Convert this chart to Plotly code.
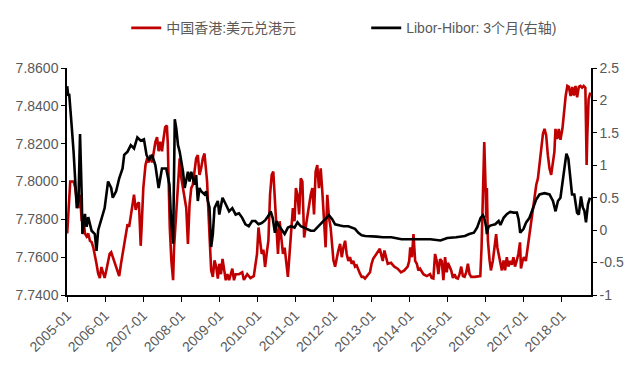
import plotly.graph_objects as go

# USD/HKD spot rate (left axis)
hkd_dates = [
    "2005-01-03", "2005-01-12", "2005-01-22", "2005-02-01", "2005-03-05", "2005-03-20", "2005-04-05",
    "2005-04-21", "2005-05-06", "2005-05-22", "2005-06-07", "2005-06-22", "2005-07-08", "2005-07-24",
    "2005-08-09", "2005-08-25", "2005-09-10", "2005-09-25", "2005-10-11", "2005-10-27", "2005-11-12",
    "2005-11-27", "2005-12-13", "2005-12-28", "2006-01-13", "2006-01-30", "2006-02-14", "2006-03-01",
    "2006-03-16", "2006-04-01", "2006-04-17", "2006-05-03", "2006-05-17", "2006-06-03", "2006-06-18",
    "2006-07-04", "2006-07-20", "2006-08-05", "2006-08-20", "2006-09-05", "2006-09-21", "2006-10-06",
    "2006-10-22", "2006-11-07", "2006-11-22", "2006-12-09", "2006-12-18", "2007-01-03", "2007-01-24",
    "2007-02-09", "2007-02-24", "2007-03-12", "2007-03-28", "2007-04-12", "2007-04-29", "2007-05-15",
    "2007-05-30", "2007-06-15", "2007-07-01", "2007-07-16", "2007-08-01", "2007-08-17", "2007-08-26",
    "2007-09-01", "2007-09-14", "2007-09-29", "2007-10-16", "2007-10-25", "2007-11-07", "2007-11-26",
    "2007-12-18", "2008-01-03", "2008-01-19", "2008-02-04", "2008-02-19", "2008-03-06", "2008-03-22",
    "2008-04-07", "2008-04-22", "2008-05-08", "2008-05-24", "2008-06-09", "2008-06-25", "2008-07-11",
    "2008-07-27", "2008-08-12", "2008-08-28", "2008-09-06", "2008-09-20", "2008-10-02", "2008-10-15",
    "2008-10-31", "2008-11-16", "2008-12-02", "2008-12-18", "2009-01-01", "2009-01-17", "2009-02-01",
    "2009-02-17", "2009-03-04", "2009-03-20", "2009-04-05", "2009-05-06", "2009-05-22", "2009-06-07",
    "2009-07-09", "2009-08-09", "2009-08-25", "2009-09-26", "2009-10-27", "2009-11-28", "2009-12-13",
    "2009-12-29", "2010-01-12", "2010-01-28", "2010-02-12", "2010-02-28", "2010-03-16", "2010-04-01",
    "2010-04-17", "2010-05-03", "2010-05-19", "2010-06-03", "2010-06-16", "2010-06-28", "2010-07-18",
    "2010-08-03", "2010-08-19", "2010-09-04", "2010-09-20", "2010-10-06", "2010-10-21", "2010-11-06",
    "2010-11-22", "2010-12-08", "2010-12-24", "2011-01-06", "2011-01-21", "2011-02-06", "2011-02-22",
    "2011-03-09", "2011-03-26", "2011-04-10", "2011-04-26", "2011-05-12", "2011-05-28", "2011-06-13",
    "2011-06-29", "2011-07-14", "2011-07-30", "2011-08-15", "2011-09-01", "2011-09-16", "2011-10-02",
    "2011-10-18", "2011-11-03", "2011-11-19", "2011-12-05", "2011-12-20", "2012-01-01", "2012-01-17",
    "2012-02-01", "2012-02-17", "2012-03-05", "2012-03-21", "2012-04-06", "2012-04-22", "2012-05-07",
    "2012-05-23", "2012-06-08", "2012-06-24", "2012-07-10", "2012-07-26", "2012-08-11", "2012-08-27",
    "2012-09-12", "2012-09-28", "2012-10-14", "2012-10-30", "2012-11-15", "2012-12-17", "2013-01-01",
    "2013-01-16", "2013-02-16", "2013-03-05", "2013-03-21", "2013-04-02", "2013-04-18", "2013-05-04",
    "2013-06-05", "2013-07-06", "2013-08-07", "2013-09-08", "2013-10-10", "2013-11-11", "2013-12-13",
    "2013-12-28", "2014-01-07", "2014-01-23", "2014-02-07", "2014-02-23", "2014-03-11", "2014-03-26",
    "2014-04-11", "2014-05-13", "2014-06-14", "2014-07-16", "2014-08-01", "2014-08-17", "2014-09-02",
    "2014-09-18", "2014-10-04", "2014-10-20", "2014-11-05", "2014-11-21", "2014-12-07", "2014-12-23",
    "2015-01-03", "2015-01-19", "2015-02-04", "2015-02-20", "2015-03-08", "2015-03-24", "2015-04-09",
    "2015-04-25", "2015-05-11", "2015-05-27", "2015-06-12", "2015-06-28", "2015-07-14", "2015-07-30",
    "2015-08-15", "2015-09-16", "2015-10-18", "2015-11-10", "2015-11-22", "2015-12-05", "2015-12-18",
    "2015-12-30", "2016-01-06", "2016-01-12", "2016-01-22", "2016-02-07", "2016-02-20", "2016-03-10",
    "2016-03-22", "2016-04-10", "2016-04-22", "2016-05-13", "2016-06-04", "2016-06-20", "2016-07-05",
    "2016-07-21", "2016-08-06", "2016-08-22", "2016-09-07", "2016-09-23", "2016-10-08", "2016-10-24",
    "2016-11-09", "2016-11-25", "2016-12-04", "2016-12-20", "2017-01-01", "2017-01-20", "2017-02-02",
    "2017-02-21", "2017-03-14", "2017-03-30", "2017-04-14", "2017-04-30", "2017-05-16", "2017-06-01",
    "2017-06-17", "2017-07-03", "2017-07-18", "2017-08-03", "2017-08-19", "2017-09-04", "2017-09-20",
    "2017-10-06", "2017-10-21", "2017-10-31", "2017-11-16", "2017-12-02", "2017-12-18", "2018-01-06",
    "2018-01-21", "2018-02-06", "2018-02-22", "2018-03-09", "2018-03-25", "2018-04-10", "2018-04-25",
    "2018-05-11", "2018-05-27", "2018-06-12", "2018-06-28", "2018-07-14", "2018-07-29", "2018-08-14",
    "2018-08-20", "2018-08-26", "2018-09-02", "2018-09-14", "2018-09-30",
]
hkd_rate = [
    7.7725, 7.7810, 7.7965, 7.8000, 7.8000, 7.7970, 7.7895,
    7.7860, 7.7930, 7.7790, 7.7810, 7.7725, 7.7710, 7.7725,
    7.7687, 7.7680, 7.7652, 7.7617, 7.7565, 7.7513, 7.7490,
    7.7548, 7.7510, 7.7490, 7.7530, 7.7583, 7.7617, 7.7626,
    7.7600, 7.7580, 7.7550, 7.7513, 7.7500, 7.7565, 7.7617,
    7.7687, 7.7740, 7.7774, 7.7760, 7.7826, 7.7890, 7.7930,
    7.7850, 7.7880, 7.7890, 7.7660, 7.7760, 7.7965, 7.8087,
    7.8122, 7.8100, 7.8140, 7.8100, 7.8160, 7.8209, 7.8235,
    7.8160, 7.8210, 7.8160, 7.8226, 7.8287, 7.8296, 7.8200,
    7.8050, 7.7757, 7.7583, 7.7478, 7.7650, 7.7757, 7.7930,
    7.8122, 7.8017, 7.7965, 7.7930, 7.7860, 7.7670, 7.7880,
    7.7965, 7.7983, 7.8052, 7.8122, 7.8139, 7.8035, 7.8070,
    7.8122, 7.8148, 7.8060, 7.8000, 7.7826, 7.7652, 7.7530,
    7.7496, 7.7583, 7.7550, 7.7487, 7.7565, 7.7510, 7.7591,
    7.7530, 7.7478, 7.7510, 7.7478, 7.7539, 7.7478, 7.7510,
    7.7510, 7.7520, 7.7480, 7.7510, 7.7490, 7.7500, 7.7565,
    7.7617, 7.7757, 7.7690, 7.7617, 7.7640, 7.7548, 7.7620,
    7.7687, 7.7930, 7.8035, 7.8052, 7.7930, 7.7757, 7.7617,
    7.7790, 7.7687, 7.7617, 7.7650, 7.7580, 7.7496, 7.7617,
    7.7722, 7.7860, 7.7790, 7.7965, 7.7930, 7.7826, 7.8017,
    7.8000, 7.7704, 7.7760, 7.7826, 7.7860, 7.7930, 7.7965,
    7.7826, 7.8052, 7.8087, 7.7965, 7.8070, 7.7950, 7.7826,
    7.7652, 7.7930, 7.7810, 7.7757, 7.7652, 7.7583, 7.7550,
    7.7600, 7.7635, 7.7670, 7.7600, 7.7652, 7.7687, 7.7617,
    7.7580, 7.7600, 7.7565, 7.7580, 7.7550, 7.7556, 7.7530,
    7.7513, 7.7496, 7.7496, 7.7487, 7.7500, 7.7520, 7.7565,
    7.7591, 7.7617, 7.7635, 7.7644, 7.7617, 7.7580, 7.7635,
    7.7565, 7.7570, 7.7550, 7.7539, 7.7520, 7.7530, 7.7550,
    7.7580, 7.7652, 7.7600, 7.7722, 7.7580, 7.7565, 7.7530,
    7.7539, 7.7510, 7.7500, 7.7510, 7.7490, 7.7487, 7.7617,
    7.7580, 7.7510, 7.7590, 7.7580, 7.7478, 7.7600, 7.7520,
    7.7570, 7.7550, 7.7530, 7.7490, 7.7510, 7.7490, 7.7487,
    7.7510, 7.7550, 7.7500, 7.7496, 7.7520, 7.7565, 7.7510,
    7.7496, 7.7496, 7.7500, 7.7500, 7.7650, 7.7930, 7.8209,
    7.7983, 7.7810, 7.7965, 7.7687, 7.7583, 7.7530, 7.7583,
    7.7650, 7.7722, 7.7650, 7.7583, 7.7530, 7.7583, 7.7530,
    7.7600, 7.7550, 7.7580, 7.7560, 7.7600, 7.7550, 7.7580,
    7.7617, 7.7678, 7.7540, 7.7580, 7.7600, 7.7580, 7.7635,
    7.7704, 7.7791, 7.7843, 7.7913, 7.7983, 7.8017, 7.8104,
    7.8191, 7.8252, 7.8278, 7.8244, 7.8139, 7.8069, 7.8035,
    7.8087, 7.8157, 7.8278, 7.8225, 7.8278, 7.8220, 7.8280,
    7.8365, 7.8452, 7.8505, 7.8500, 7.8452, 7.8500, 7.8455,
    7.8505, 7.8445, 7.8500, 7.8505, 7.8496, 7.8505, 7.8496,
    7.8300, 7.8087, 7.8250, 7.8435, 7.8470,
]

# 3-month Libor minus Hibor spread, percentage points (right axis)
spread_dates = [
    "2005-01-03", "2005-01-12", "2005-01-22", "2005-02-01", "2005-02-17", "2005-03-05", "2005-03-20",
    "2005-04-05", "2005-04-21", "2005-05-06", "2005-05-22", "2005-05-29", "2005-06-22", "2005-07-08",
    "2005-07-24", "2005-08-25", "2005-09-25", "2005-10-11", "2005-10-27", "2005-11-27", "2005-12-28",
    "2006-01-30", "2006-03-01", "2006-03-16", "2006-04-17", "2006-05-17", "2006-06-18", "2006-07-04",
    "2006-08-05", "2006-09-05", "2006-10-06", "2006-11-07", "2006-12-09", "2007-01-09", "2007-02-03",
    "2007-02-25", "2007-03-28", "2007-04-29", "2007-05-30", "2007-07-01", "2007-08-11", "2007-09-11",
    "2007-09-24", "2007-10-16", "2007-10-25", "2007-11-01", "2007-11-16", "2007-12-02", "2007-12-18",
    "2008-01-03", "2008-01-19", "2008-02-04", "2008-02-19", "2008-03-06", "2008-03-22", "2008-04-07",
    "2008-04-22", "2008-05-08", "2008-05-24", "2008-06-09", "2008-06-25", "2008-07-11", "2008-08-12",
    "2008-08-28", "2008-09-13", "2008-09-29", "2008-10-15", "2008-10-31", "2008-11-16", "2008-12-18",
    "2009-01-01", "2009-02-01", "2009-03-04", "2009-04-05", "2009-05-06", "2009-06-07", "2009-07-09",
    "2009-08-09", "2009-09-09", "2009-10-11", "2009-11-12", "2009-12-13", "2010-01-12", "2010-02-12",
    "2010-03-16", "2010-04-17", "2010-05-09", "2010-05-28", "2010-06-19", "2010-07-05", "2010-07-18",
    "2010-08-19", "2010-09-20", "2010-10-21", "2010-11-22", "2010-12-24", "2011-01-21", "2011-02-22",
    "2011-03-26", "2011-04-26", "2011-05-28", "2011-06-29", "2011-07-30", "2011-09-01", "2011-10-02",
    "2011-11-03", "2011-11-19", "2011-12-20", "2012-01-17", "2012-03-05", "2012-04-06", "2012-05-23",
    "2012-06-24", "2012-07-26", "2012-08-27", "2012-09-28", "2012-11-02", "2012-12-17", "2013-02-19",
    "2013-04-17", "2013-07-10", "2013-10-16", "2014-01-07", "2014-04-13", "2014-07-19", "2014-10-24",
    "2014-12-28", "2015-03-23", "2015-06-15", "2015-07-27", "2015-09-10", "2015-10-11", "2015-11-13",
    "2015-12-05", "2015-12-18", "2016-01-06", "2016-01-12", "2016-01-27", "2016-02-13", "2016-04-01",
    "2016-05-04", "2016-05-21", "2016-06-21", "2016-07-23", "2016-08-23", "2016-09-25", "2016-10-26",
    "2016-11-11", "2016-11-27", "2016-12-29", "2017-01-23", "2017-02-24", "2017-03-28", "2017-04-29",
    "2017-05-31", "2017-07-18", "2017-09-04", "2017-10-07", "2017-11-01", "2017-11-24", "2017-12-18",
    "2018-01-19", "2018-02-13", "2018-03-04", "2018-03-23", "2018-04-08", "2018-04-30", "2018-05-26",
    "2018-06-12", "2018-07-03", "2018-07-20", "2018-08-04", "2018-08-20", "2018-09-08", "2018-09-27",
]
spread_3m = [
    2.22, 2.07, 2.10, 1.82, 1.56, 1.21, 0.86,
    0.34, 0.45, 1.48, 0.55, -0.06, 0.25, 0.05,
    0.20, -0.01, -0.06, -0.32, 0.00, 0.19, 0.34,
    0.75, 0.65, 0.50, 0.60, 0.80, 0.95, 1.16,
    1.21, 1.31, 1.26, 1.43, 1.38, 1.40, 1.16,
    1.08, 1.16, 1.00, 0.65, 0.95, 0.95, 0.70,
    0.24, -0.21, 0.60, 1.71, 1.56, 1.31, 1.21,
    1.05, 0.90, 0.65, 0.80, 0.90, 0.75, 0.90,
    0.80, 0.70, 0.85, 0.45, 0.65, 0.60, 0.55,
    0.60, 0.45, 0.35, -0.26, -0.06, 0.34, 0.45,
    0.24, 0.50, 0.40, 0.29, 0.34, 0.24, 0.26,
    0.19, 0.09, 0.06, 0.14, 0.14, 0.09, 0.11,
    0.15, 0.22, 0.29, 0.19, -0.04, 0.14, 0.09,
    0.02, -0.06, 0.04, 0.06, 0.04, 0.12, 0.06,
    0.04, 0.02, -0.01, -0.01, 0.04, 0.09, 0.14,
    0.19, 0.23, 0.17, 0.09, 0.07, 0.06, 0.06,
    0.04, 0.02, -0.04, -0.08, -0.09, -0.09, -0.10,
    -0.11, -0.11, -0.14, -0.14, -0.13, -0.14, -0.16,
    -0.12, -0.11, -0.09, -0.06, -0.04, 0.04, 0.19,
    0.23, 0.19, 0.04, -0.06, 0.05, 0.07, 0.09,
    0.14, 0.08, 0.19, 0.25, 0.28, 0.27, 0.27,
    0.17, -0.04, 0.02, 0.12, 0.19, 0.32, 0.47,
    0.55, 0.57, 0.55, 0.45, 0.29, 0.45, 0.50,
    0.90, 1.18, 1.10, 0.80, 0.55, 0.55, 0.27,
    0.24, 0.52, 0.35, 0.30, 0.12, 0.40, 0.50,
]

x_tick_labels = [f"{y}-01" for y in range(2005, 2019)]
y_left_ticks = [7.74, 7.76, 7.78, 7.80, 7.82, 7.84, 7.86]
y_right_ticks = [-1, -0.5, 0, 0.5, 1, 1.5, 2, 2.5]
y_right_labels = ["-1", "-0.5", "0", "0.5", "1", "1.5", "2", "2.5"]

TICK_COLOR = "#595959"
LATIN = "Liberation Sans, Arial, sans-serif"
LEGEND_FONT = "Liberation Sans Narrow, Liberation Sans, Noto Sans CJK SC, sans-serif"

fig = go.Figure()
fig.add_trace(go.Scatter(
    x=hkd_dates, y=hkd_rate, name="中国香港:美元兑港元", mode="lines",
    line=dict(color="#C00000", width=2.6), yaxis="y",
))
fig.add_trace(go.Scatter(
    x=spread_dates, y=spread_3m, name="Libor-Hibor: 3个月(右轴)", mode="lines",
    line=dict(color="#000000", width=2.6), yaxis="y2",
))

fig.update_layout(
    width=636, height=367,
    margin=dict(l=67, r=36, t=67, b=70),
    paper_bgcolor="white", plot_bgcolor="white",
    showlegend=True,
    legend=dict(
        orientation="h", x=0.113, xanchor="left", y=1.175, yanchor="middle",
        font=dict(family=LEGEND_FONT, size=14, color=TICK_COLOR),
        entrywidth=195, entrywidthmode="pixels",
        itemwidth=30, tracegroupgap=0,
    ),
    xaxis=dict(
        type="date", range=["2005-01-01", "2018-10-07"],
        tickvals=[f"{lbl}-01" for lbl in x_tick_labels], ticktext=x_tick_labels,
        tickangle=-45, tickfont=dict(family=LATIN, size=14, color=TICK_COLOR),
        showline=True, linecolor="#000000", linewidth=1.5,
        ticks="outside", ticklen=5, tickcolor="#000000", tickwidth=1,
        showgrid=False, zeroline=False,
    ),
    yaxis=dict(
        range=[7.74, 7.86], tickvals=y_left_ticks, tickformat=".4f",
        tickfont=dict(family=LATIN, size=14, color=TICK_COLOR),
        showline=True, linecolor="#000000", linewidth=1.5,
        ticks="outside", ticklen=4, tickcolor="#000000", tickwidth=1,
        showgrid=False, zeroline=False,
    ),
    yaxis2=dict(
        range=[-1, 2.5], tickvals=y_right_ticks, ticktext=y_right_labels,
        overlaying="y", side="right",
        tickfont=dict(family=LATIN, size=14, color=TICK_COLOR),
        showline=True, linecolor="#000000", linewidth=1.5,
        ticks="outside", ticklen=4, tickcolor="#000000", tickwidth=1,
        showgrid=False, zeroline=False,
    ),
)

fig.write_html("out.html")
